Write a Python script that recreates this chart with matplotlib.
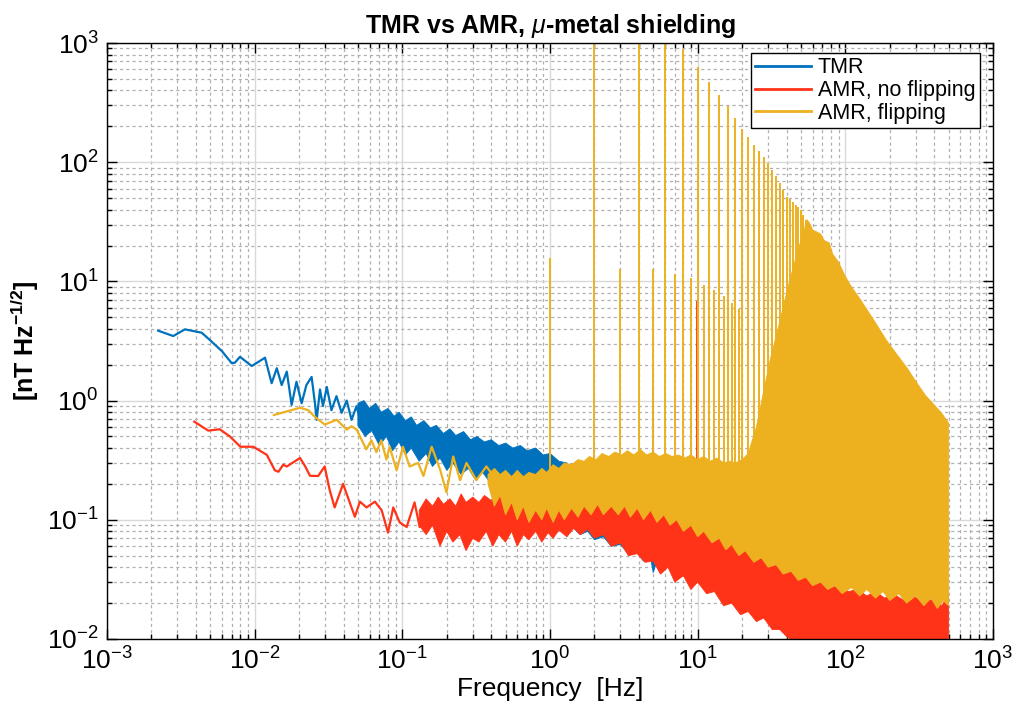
import numpy as np
import matplotlib
matplotlib.use("Agg")
import matplotlib.pyplot as plt
from matplotlib import font_manager
from matplotlib.lines import Line2D
from matplotlib.ticker import LogLocator, LogFormatterMathtext, NullFormatter

# ---------------------------------------------------------------- data
# TMR sensor: resolved low-frequency part of the spectrum [Hz], [nT/sqrt(Hz)]
tmr_line_f = [0.00222, 0.00281, 0.00337, 0.00438, 0.00498, 0.0060, 0.00699, 0.00735,
              0.00795, 0.00955, 0.01175, 0.01303, 0.01412, 0.01524, 0.0165, 0.0178,
              0.0192, 0.0208, 0.0224, 0.0243, 0.0256, 0.0263, 0.0277, 0.029, 0.0308,
              0.0331, 0.0358, 0.0388, 0.042, 0.0453, 0.049, 0.0529, 0.0572]
tmr_line_v = [3.86, 3.48, 3.96, 3.71, 3.22, 2.6, 2.06, 2.08,
              2.33, 1.95, 2.29, 1.40, 1.87, 1.35, 1.75, 0.92,
              1.44, 0.95, 1.35, 1.58, 0.95, 0.69, 1.24, 0.90, 1.30,
              0.83, 1.09, 0.79, 1.00, 0.69, 0.90, 0.61, 0.79]
# TMR sensor: dense noise region, upper and lower edge
tmr_hi_f = [0.05, 0.055, 0.06, 0.066, 0.072, 0.08, 0.088, 0.095, 0.105, 0.115, 0.125,
            0.14, 0.155, 0.17, 0.19, 0.21, 0.23, 0.26, 0.29, 0.32, 0.36, 0.4, 0.45, 0.5,
            0.56, 0.63, 0.7, 0.8, 0.9, 1.0, 1.15, 1.3, 1.5, 2.0, 3.0, 5.0, 8.0, 12.0, 15.0]
tmr_hi_v = [0.95, 1.0, 0.86, 0.95, 0.8, 0.86, 0.74, 0.8, 0.68, 0.73, 0.62,
            0.68, 0.59, 0.62, 0.53, 0.58, 0.51, 0.55, 0.47, 0.5, 0.45, 0.47, 0.42, 0.44,
            0.4, 0.42, 0.38, 0.4, 0.35, 0.36, 0.31, 0.3, 0.25, 0.2, 0.15, 0.1, 0.075, 0.06, 0.05]
tmr_lo_f = [0.05, 0.056, 0.062, 0.07, 0.078, 0.086, 0.095, 0.105, 0.115, 0.13, 0.145,
            0.16, 0.18, 0.2, 0.22, 0.25, 0.28, 0.31, 0.35, 0.4, 0.45, 0.5, 0.6, 0.7, 0.8,
            0.9, 1.0, 1.15, 1.3, 1.45, 1.6, 1.8, 2.0, 2.3, 2.6, 3.0, 3.4, 3.8, 4.3, 4.8,
            5.0, 5.3, 6.0, 6.8, 7.5, 8.5, 9.5, 10.5, 12.0, 13.5, 15.0]
tmr_lo_v = [0.62, 0.5, 0.56, 0.42, 0.5, 0.38, 0.45, 0.35, 0.4, 0.31, 0.36,
            0.28, 0.33, 0.26, 0.3, 0.24, 0.27, 0.22, 0.25, 0.2, 0.23, 0.19, 0.2, 0.17, 0.18,
            0.15, 0.14, 0.11, 0.095, 0.085, 0.075, 0.08, 0.068, 0.072, 0.06, 0.062, 0.052,
            0.055, 0.045, 0.048, 0.036, 0.045, 0.04, 0.043, 0.037, 0.04, 0.034, 0.037,
            0.031, 0.033, 0.03]
tmr_spike_f = [5.0]
tmr_spike_v = [1.3]

# AMR sensor without flipping
amr_nf_line_f = [0.0039, 0.00485, 0.0058, 0.0068, 0.0080, 0.0098, 0.0121, 0.0137,
                 0.0145, 0.0156, 0.0165, 0.0203, 0.0220, 0.0237, 0.0269, 0.0298,
                 0.0322, 0.0348, 0.0397, 0.044, 0.0477, 0.0516, 0.0572, 0.0652,
                 0.0725, 0.080, 0.0868, 0.096, 0.107, 0.121, 0.131, 0.146]
amr_nf_line_v = [0.666, 0.56, 0.575, 0.50, 0.41, 0.41, 0.35, 0.26,
                 0.253, 0.29, 0.28, 0.33, 0.28, 0.234, 0.233, 0.28,
                 0.178, 0.127, 0.20, 0.14, 0.106, 0.142, 0.127, 0.142,
                 0.12, 0.078, 0.127, 0.095, 0.087, 0.14, 0.087, 0.12]
amr_nf_hi_f = [0.13, 0.145, 0.16, 0.175, 0.19, 0.21, 0.23, 0.25, 0.27, 0.3, 0.33, 0.36,
               0.4, 0.44, 0.48, 0.53, 0.58, 0.64, 0.7, 0.77, 0.85, 0.93, 1.0, 1.1, 1.2,
               1.35, 1.5, 1.7, 1.85, 2.0, 2.2, 2.45, 2.7, 3.0, 3.4, 3.8, 4.3, 4.8, 5.4,
               6.0, 7.0, 8.0, 9.0, 10.0, 11.5, 13.0, 15.0, 17.0, 19.0, 21.0, 24.0, 27.0,
               30.0, 34.0, 38.0, 43.0, 48.0, 55.0, 62.0, 70.0, 80.0, 90.0, 105.0, 120.0,
               140.0, 160.0, 185.0, 210.0, 250.0, 290.0, 340.0, 400.0, 450.0, 500.0]
amr_nf_hi_v = [0.12, 0.15, 0.13, 0.155, 0.135, 0.15, 0.13, 0.165, 0.14, 0.155, 0.14, 0.16,
               0.145, 0.165, 0.15, 0.18, 0.16, 0.18, 0.165, 0.2, 0.17, 0.2, 0.18, 0.21, 0.19,
               0.22, 0.2, 0.23, 0.21, 0.245, 0.21, 0.22, 0.195, 0.2, 0.175, 0.18, 0.155, 0.16,
               0.14, 0.145, 0.12, 0.125, 0.11, 0.115, 0.097, 0.1, 0.085, 0.088, 0.074, 0.075,
               0.061, 0.062, 0.051, 0.052, 0.043, 0.045, 0.037, 0.038, 0.031, 0.033, 0.027,
               0.028, 0.025, 0.026, 0.023, 0.025, 0.022, 0.024, 0.021, 0.023, 0.02, 0.022,
               0.019, 0.024]
amr_nf_lo_f = [0.13, 0.145, 0.16, 0.18, 0.2, 0.22, 0.245, 0.27, 0.3, 0.33, 0.37, 0.41,
               0.45, 0.5, 0.55, 0.6, 0.66, 0.72, 0.8, 0.88, 0.97, 1.05, 1.15, 1.3, 1.45,
               1.6, 1.8, 2.0, 2.3, 2.6, 3.0, 3.4, 3.9, 4.4, 5.0, 5.6, 6.3, 7.0, 8.0, 9.0,
               10.0, 11.5, 13.0, 15.0, 17.0, 19.5, 22.0, 25.0, 28.0, 32.0, 36.0, 40.0,
               45.0, 50.0, 500.0]
amr_nf_lo_v = [0.09, 0.075, 0.09, 0.06, 0.08, 0.065, 0.075, 0.055, 0.07, 0.065, 0.08, 0.06,
               0.075, 0.065, 0.08, 0.06, 0.075, 0.068, 0.08, 0.065, 0.078, 0.07, 0.082, 0.072,
               0.085, 0.075, 0.083, 0.07, 0.075, 0.06, 0.064, 0.05, 0.052, 0.044, 0.045, 0.035,
               0.04, 0.03, 0.034, 0.026, 0.03, 0.024, 0.025, 0.019, 0.02, 0.016, 0.017, 0.014,
               0.015, 0.012, 0.012, 0.0105, 0.0095, 0.005, 0.005]
amr_nf_spike_f = [9.85, 39.5]
amr_nf_spike_v = [6.8, 6.6]

# AMR sensor with flipping
amr_fl_line_f = [0.0135, 0.0203, 0.0231, 0.0256, 0.0298, 0.036, 0.042, 0.0453,
                 0.0491, 0.057, 0.0617, 0.0667, 0.072, 0.078, 0.082, 0.0915, 0.101,
                 0.112, 0.128, 0.139, 0.158, 0.180, 0.199, 0.221, 0.246, 0.272,
                 0.317, 0.371, 0.434]
amr_fl_line_v = [0.757, 0.871, 0.83, 0.73, 0.63, 0.69, 0.57, 0.61,
                 0.57, 0.39, 0.465, 0.37, 0.465, 0.32, 0.41, 0.26, 0.41,
                 0.28, 0.30, 0.233, 0.41, 0.265, 0.17, 0.34, 0.215, 0.30,
                 0.215, 0.28, 0.215]
# dense noise region, upper edge below the merged harmonics
amr_fl_hi_f = [0.38, 0.42, 0.46, 0.5, 0.55, 0.6, 0.66, 0.72, 0.8, 0.88, 0.95, 1.05,
               1.15, 1.25, 1.4, 1.55, 1.7, 1.85, 2.05, 2.25, 2.5, 2.75, 3.05, 3.35, 3.7,
               4.1, 4.5, 5.0, 5.5, 6.1, 6.7, 7.4, 8.2, 9.0, 10.0, 11.0, 12.2, 13.5, 15.0,
               16.5, 18.0, 20.0, 22.0, 25.0, 28.0, 31.0, 35.0, 40.0, 45.0, 50.0, 54.0]
amr_fl_hi_v = [0.24, 0.27, 0.24, 0.26, 0.23, 0.26, 0.23, 0.25, 0.24, 0.27, 0.25, 0.29,
               0.27, 0.3, 0.29, 0.32, 0.31, 0.34, 0.32, 0.36, 0.34, 0.37, 0.35, 0.38, 0.35,
               0.39, 0.35, 0.37, 0.34, 0.36, 0.34, 0.35, 0.33, 0.35, 0.32, 0.34, 0.31, 0.33,
               0.3, 0.31, 0.3, 0.32, 0.36, 0.6, 1.2, 2.2, 4.0, 8.0, 14.0, 22.0, 30.0]
# merged harmonics above ~55 Hz (upper edge)
amr_fl_env_f = [55, 58, 60, 64, 68, 72, 78, 82, 90, 100, 110, 125, 140, 160, 190, 220,
                260, 300, 350, 400, 450, 500]
amr_fl_env_v = [33, 30, 27, 26, 25, 22, 21, 17, 14.5, 11, 9, 7.2, 5.8, 4.5, 3.2, 2.5,
                1.9, 1.45, 1.1, 0.92, 0.78, 0.65]
amr_fl_lo_f = [0.38, 0.42, 0.46, 0.5, 0.55, 0.6, 0.66, 0.72, 0.8, 0.88, 0.95, 1.05, 1.15,
               1.25, 1.4, 1.55, 1.7, 1.9, 2.1, 2.3, 2.6, 2.9, 3.2, 3.5, 3.9, 4.3, 4.8, 5.3,
               5.9, 6.5, 7.2, 8.0, 9.0, 10.0, 11.0, 12.5, 14.0, 15.5, 17.0, 19.0, 21.0, 24.0,
               27.0, 30.0, 34.0, 38.0, 43.0, 48.0, 54.0, 60.0, 68.0, 76.0, 85.0, 95.0, 110.0,
               125.0, 140.0, 160.0, 180.0, 200.0, 230.0, 260.0, 300.0, 340.0, 380.0, 420.0,
               460.0, 500.0]
amr_fl_lo_v = [0.2, 0.13, 0.16, 0.11, 0.14, 0.1, 0.13, 0.095, 0.12, 0.1, 0.125, 0.095, 0.12,
               0.1, 0.125, 0.105, 0.13, 0.11, 0.135, 0.11, 0.13, 0.11, 0.13, 0.105, 0.125, 0.1,
               0.12, 0.095, 0.11, 0.09, 0.1, 0.08, 0.09, 0.072, 0.08, 0.064, 0.07, 0.056, 0.062,
               0.05, 0.055, 0.044, 0.048, 0.04, 0.042, 0.035, 0.037, 0.031, 0.033, 0.028, 0.03,
               0.026, 0.028, 0.024, 0.027, 0.023, 0.026, 0.022, 0.025, 0.021, 0.024, 0.02,
               0.023, 0.019, 0.022, 0.018, 0.021, 0.019]
# flipping harmonics
amr_fl_spike_f = [1, 2, 3, 4, 5, 6, 7, 8, 9, 10, 11, 12, 13, 14, 15, 16, 17, 18, 19,
                  20, 22, 24, 26, 28, 30, 32, 34, 36, 38, 40, 42, 44, 46, 48, 50, 52, 54]
amr_fl_spike_v = [15.7, 2000, 12.7, 2000, 12.7, 2000, 11.5, 886, 10.7, 633, 9.3, 468,
                  8.4, 366, 7.5, 296, 6.6, 233, 5.9, 189, 164, 139, 125, 111, 98, 86,
                  76, 67, 59, 51, 49, 46, 44, 42, 40, 36, 33]

labels = ["TMR", "AMR, no flipping", "AMR, flipping"]
colors = ["#0072BD", "#FF3318", "#EDB120"]

# ---------------------------------------------------------------- fonts
installed = {f.name for f in font_manager.fontManager.ttflist}
main_font = "Liberation Sans Narrow" if "Liberation Sans Narrow" in installed else "Liberation Sans"
plt.rcParams['font.family'] = [main_font, 'DejaVu Sans']
plt.rcParams['mathtext.fontset'] = 'custom'
plt.rcParams['mathtext.rm'] = main_font
plt.rcParams['mathtext.it'] = main_font + ':italic'
plt.rcParams['mathtext.bf'] = main_font + ':bold'


def band(ax, hi_f, hi_v, lo_f, lo_v, color, z):
    """Filled region between an upper and a lower edge."""
    xs = list(hi_f) + list(lo_f)[::-1]
    ys = list(hi_v) + list(lo_v)[::-1]
    ax.fill(xs, ys, color=color, lw=0.6, ec=color, zorder=z)


# ---------------------------------------------------------------- figure
fig = plt.figure(figsize=(10.17, 7.11), dpi=100)
ax = fig.add_axes([107 / 1017, 1 - 639 / 711, 886 / 1017, 596 / 711])

lw = 1.6

# TMR
ax.plot(tmr_line_f, tmr_line_v, color=colors[0], lw=lw, zorder=3)
band(ax, tmr_hi_f, tmr_hi_v, tmr_lo_f, tmr_lo_v, colors[0], 3)
ax.vlines(tmr_spike_f, 0.2, tmr_spike_v, color=colors[0], lw=1.3, zorder=3)

# AMR, no flipping
ax.plot(amr_nf_line_f, amr_nf_line_v, color=colors[1], lw=lw, zorder=4)
band(ax, amr_nf_hi_f, amr_nf_hi_v, amr_nf_lo_f, amr_nf_lo_v, colors[1], 4)
ax.vlines(amr_nf_spike_f, 0.1, amr_nf_spike_v, color=colors[1], lw=1.3, zorder=4)

# AMR, flipping
ax.plot(amr_fl_line_f, amr_fl_line_v, color=colors[2], lw=lw, zorder=5)
band(ax, amr_fl_hi_f + amr_fl_env_f, amr_fl_hi_v + amr_fl_env_v,
     amr_fl_lo_f, amr_fl_lo_v, colors[2], 5)
ax.vlines(amr_fl_spike_f, 0.2, amr_fl_spike_v, color=colors[2], lw=1.4, zorder=5)

ax.set_xscale('log')
ax.set_yscale('log')
ax.set_xlim(1e-3, 1e3)
ax.set_ylim(1e-2, 1e3)

for axis in (ax.xaxis, ax.yaxis):
    axis.set_major_locator(LogLocator(base=10, numticks=20))
    axis.set_minor_locator(LogLocator(base=10, subs=np.arange(2, 10), numticks=20))
    axis.set_major_formatter(LogFormatterMathtext())
    axis.set_minor_formatter(NullFormatter())

ax.grid(True, which='major', color='#d9d9d9', lw=1.0, ls='-', zorder=0)
ax.grid(True, which='minor', color='#b0b0b0', lw=0.9, ls=(0, (2.5, 2.5)), zorder=0)
ax.set_axisbelow(True)

ax.tick_params(which='both', direction='in', top=True, right=True, width=1.0, color='black')
ax.tick_params(which='major', length=7, labelsize=19, pad=6)
ax.tick_params(which='minor', length=3.5)
for s in ax.spines.values():
    s.set_linewidth(1.0)
    s.set_zorder(10)

ax.set_title(r"TMR vs AMR, $\mu$-metal shielding", fontsize=18, fontweight='bold', pad=7)
ax.set_xlabel("Frequency  [Hz]", fontsize=19, labelpad=2)
ax.set_ylabel(r"[nT Hz$^{\mathbf{-1/2}}$]", fontsize=18, fontweight='bold', labelpad=4)

handles = [Line2D([], [], color=c, lw=2) for c in colors]
leg = ax.legend(handles, labels, loc='upper right', fontsize=15.5, frameon=True,
                fancybox=False, framealpha=1, edgecolor='black', borderpad=0.2,
                handlelength=2.6, handletextpad=0.3, labelspacing=0.08,
                borderaxespad=0, bbox_to_anchor=(0.985, 0.983))
leg.get_frame().set_linewidth(1.0)
leg.set_zorder(20)

fig.savefig("out.png", dpi=100)
